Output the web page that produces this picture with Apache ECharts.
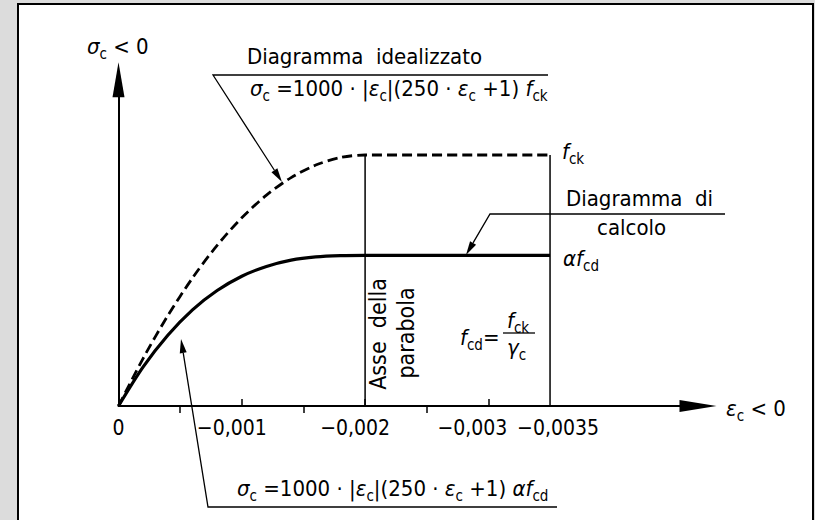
<!DOCTYPE html>
<html>
<head>
<meta charset="utf-8">
<script src="https://cdn.jsdelivr.net/npm/echarts@6/dist/echarts.min.js"></script>
<style>
  html, body { margin: 0; padding: 0; width: 815px; height: 520px; overflow: hidden; background: #dcdcdc; }
  #frame { position: absolute; left: 17px; top: 3px; width: 797px; height: 540px; background: #fff; border: 2px solid #000; box-sizing: border-box; }
  #chart { position: absolute; left: 0; top: 0; width: 815px; height: 520px; }
</style>
</head>
<body>
<div id="frame"></div>
<div id="chart"></div>
<script>
// Strain samples (compression negative) and stress normalised to f_ck
const strain       = [0, -0.0002, -0.0004, -0.0006, -0.0008, -0.001, -0.0012, -0.0014, -0.0016, -0.0018, -0.002, -0.0035];
const stressIdeal  = [0, 0.19, 0.36, 0.51, 0.64, 0.75, 0.84, 0.91, 0.96, 0.99, 1.0, 1.0];
const stressDesign = [0, 0.156, 0.282, 0.383, 0.46, 0.517, 0.556, 0.581, 0.594, 0.599, 0.6, 0.6];

// Axis ticks and labels
const tickLabels = [0, -0.001, -0.002, -0.003, -0.0035];
const majorTicks = [-0.001, -0.002, -0.003];
const minorTicks = [-0.0005, -0.0015, -0.0025];
const guideLines = [-0.002, -0.0035];   // parabola axis and ultimate strain

const FF = "'DejaVu Sans Condensed','Liberation Sans Narrow','Roboto Condensed',Roboto,sans-serif";
const INK = '#000';
const FS = 22;

const rich = {
  t: { fill: INK, fontSize: FS, lineHeight: 30, fontFamily: FF },
  i: { fill: INK, fontSize: FS, lineHeight: 30, fontFamily: FF, fontStyle: 'italic' },
  s: { fill: INK, fontSize: 15, lineHeight: 13, padding: [12, 0, 0, 0], verticalAlign: 'bottom', fontFamily: FF },
  r: { fill: INK, fontSize: 23, lineHeight: 30, fontFamily: FF }
};

function label(text, x, y, extra) {
  return Object.assign({
    type: 'text', x: x, y: y, z: 20,
    style: { text: text, rich: rich, fill: INK, fontSize: FS, fontFamily: FF, align: 'left', verticalAlign: 'middle' }
  }, extra || {});
}

function line(points, width) {
  return { type: 'polyline', z: 20, shape: { points: points }, style: { stroke: INK, lineWidth: width || 1.3, fill: null } };
}

// leader line: polyline whose last point carries a filled arrow head
function leader(points, len, half) {
  const n = points.length;
  const [x1, y1] = points[n - 2], [x2, y2] = points[n - 1];
  const L = Math.hypot(x2 - x1, y2 - y1), ux = (x2 - x1) / L, uy = (y2 - y1) / L;
  const bx = x2 - ux * len, by = y2 - uy * len;
  const shaft = points.slice(0, n - 1).concat([[bx, by]]);
  return [
    line(shaft, 1.3),
    { type: 'polygon', z: 20, shape: { points: [[x2, y2], [bx - uy * half, by + ux * half], [bx + uy * half, by - ux * half]] }, style: { fill: INK } }
  ];
}

// tick label text; the labels are nudged sideways so the dense ones sit apart
const labelShift = { '0': 0, '-0.001': -10, '-0.002': -10, '-0.003': -16, '-0.0035': 8 };
const labelRich = {};
function fmt(v) {
  const txt = v === 0 ? '0' : '\u2212' + String(-v).replace('.', ',');
  const key = 'k' + String(-v).replace('.', '');
  const d = labelShift[String(v)] || 0;
  labelRich[key] = { fontSize: 21, fontFamily: FF, color: INK, padding: [0, d < 0 ? -2 * d : 0, 0, d > 0 ? 2 * d : 0] };
  return '{' + key + '|' + txt + '}';
}
tickLabels.forEach(fmt);

const xMin = -0.0047, yMax = 1.3;
const fck = stressIdeal[stressIdeal.length - 1];

const series = [];
guideLines.forEach(function (g) {
  series.push({
    type: 'line', data: [[g, 0], [g, fck]], symbol: 'none', silent: true,
    lineStyle: { color: INK, width: 1.5 }, z: 2
  });
});
series.push({
  name: 'Diagramma idealizzato', type: 'line', symbol: 'none', smooth: 0.3,
  data: strain.map(function (e, i) { return [e, stressIdeal[i]]; }),
  lineStyle: { color: INK, width: 2.8, type: [10, 5] }, z: 3
});
series.push({
  name: 'Diagramma di calcolo', type: 'line', symbol: 'none', smooth: 0.3,
  data: strain.map(function (e, i) { return [e, stressDesign[i]]; }),
  lineStyle: { color: INK, width: 3.2 }, z: 4
});

const graphics = [].concat(
  [label('{i|σ}{s|c}{t| < 0}', 87, 46)],
  [label('{t|Diagramma  idealizzato}', 247, 56)],
  [label('{i|σ}{s|c}{t| =1000 · |}{i|ε}{s|c}{t||(250 · }{i|ε}{s|c}{t| +1) }{i|f}{s|ck}', 250, 88)],
  leader([[548, 75], [213, 75], [282, 182]], 14, 3.5),
  [label('{i|f}{s|ck}', 562, 151)],
  [label('{t|Diagramma  di}', 566, 198)],
  [label('{t|calcolo}', 597, 227)],
  leader([[725, 214], [490, 214], [466, 255]], 14, 3.5),
  [label('{i|αf}{s|cd}', 563, 258)],
  [label('{r|Asse  della}', 378, 334, { rotation: Math.PI / 2 })],
  [label('{r|parabola}', 406, 333, { rotation: Math.PI / 2 })],
  [label('{i|f}{s|cd}{t|=}', 460, 337)],
  [label('{i|f}{s|ck}', 507, 320)],
  [line([[503, 333], [535, 333]], 1.3)],
  [label('{i|γ}{s|c}', 507, 347)],
  [label('{i|ε}{s|c}{t| < 0}', 726, 408)],
  [label('{i|σ}{s|c}{t| =1000 · |}{i|ε}{s|c}{t||(250 · }{i|ε}{s|c}{t| +1) }{i|αf}{s|cd}', 237, 488)],
  leader([[557, 507], [208, 507], [181, 339]], 14, 3.5)
);
// rotated labels are centred on their anchor
graphics.forEach(function (g) {
  if (g.rotation) { g.style.align = 'center'; }
});

const chart = echarts.init(document.getElementById('chart'), null, { renderer: 'svg', width: 815, height: 520 });
chart.setOption({
  animation: false,
  backgroundColor: 'transparent',
  grid: { left: 118.5, right: 117, top: 79.7, bottom: 114 },
  xAxis: [{
    type: 'value', min: xMin, max: 0, inverse: true, position: 'bottom',
    axisLine: { show: true, onZero: false, lineStyle: { color: INK, width: 2 }, symbol: ['none', 'triangle'], symbolSize: [12, 37] },
    axisTick: { show: true, inside: true, length: 7, customValues: majorTicks, lineStyle: { color: INK, width: 1.5 } },
    axisLabel: { show: true, customValues: tickLabels, formatter: fmt, rich: labelRich, margin: 11, color: INK, fontSize: 21, fontFamily: FF, hideOverlap: false },
    splitLine: { show: false }
  }, {
    type: 'value', min: xMin, max: 0, inverse: true, position: 'bottom',
    axisLine: { show: false },
    axisTick: { show: true, inside: false, length: 7, customValues: minorTicks, lineStyle: { color: INK, width: 1.5 } },
    axisLabel: { show: false },
    splitLine: { show: false }
  }],
  yAxis: {
    type: 'value', min: 0, max: yMax,
    axisLine: { show: true, onZero: false, lineStyle: { color: INK, width: 2 }, symbol: ['none', 'triangle'], symbolSize: [12, 35] },
    axisTick: { show: false }, axisLabel: { show: false }, splitLine: { show: false }
  },
  series: series,
  graphic: graphics
});
</script>
</body>
</html>
